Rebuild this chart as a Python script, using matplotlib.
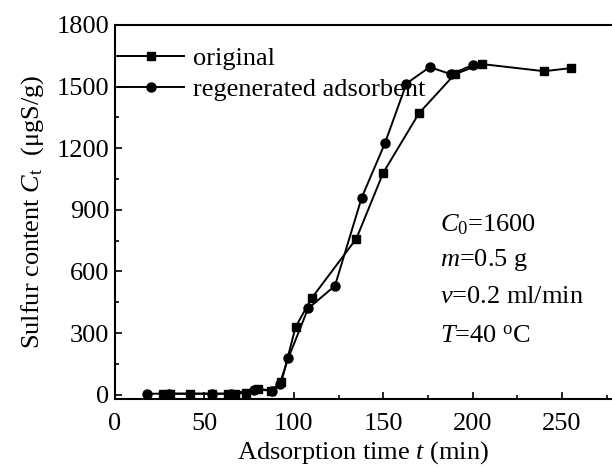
import matplotlib.pyplot as plt
from matplotlib.ticker import MultipleLocator

plt.rcParams['font.family'] = ['Liberation Serif', 'DejaVu Serif']
plt.rcParams['mathtext.fontset'] = 'custom'
plt.rcParams['mathtext.rm'] = 'Liberation Serif'
plt.rcParams['mathtext.it'] = 'Liberation Serif:italic'

# breakthrough curves: time (min) vs sulfur content (ugS/g)
orig_t = [27, 31, 42, 54, 63, 67, 73, 80, 87, 93, 101, 110, 135, 150, 170, 190, 205, 240, 255]
orig_c = [5, 5, 5, 5, 5, 5, 8, 30, 20, 60, 330, 470, 760, 1080, 1370, 1560, 1610, 1575, 1590]

regen_t = [18, 30, 54, 65, 78, 88, 92, 97, 108, 123, 138, 151, 163, 176, 188, 200]
regen_c = [5, 5, 5, 5, 25, 20, 50, 180, 420, 530, 960, 1225, 1515, 1595, 1560, 1605]

FS = 19

fig = plt.figure(figsize=(6.12, 4.67), dpi=100)
ax = fig.add_axes([0.188, 0.146, 0.812, 0.8005])

ax.plot(orig_t, orig_c, '-s', color='black', lw=1.4, ms=6, label='original')
ax.plot(regen_t, regen_c, '-o', color='black', lw=1.4, ms=6.5, label='regenerated adsorbent')

ax.set_xlim(0, 278)
ax.set_ylim(-20, 1800)
ax.xaxis.set_major_locator(MultipleLocator(50))
ax.xaxis.set_minor_locator(MultipleLocator(25))
ax.yaxis.set_major_locator(MultipleLocator(300))
ax.yaxis.set_minor_locator(MultipleLocator(150))
ax.tick_params(which='both', direction='in', labelsize=FS, width=1.2)
ax.tick_params(which='major', length=5)
ax.tick_params(which='minor', length=3)
ax.tick_params(axis='x', which='major', pad=10)
ax.tick_params(axis='y', which='major', pad=4)
ax.spines['right'].set_visible(False)
for s in ['left', 'bottom', 'top']:
    ax.spines[s].set_linewidth(1.5)

ax.set_xlabel('Adsorption time $t$ (min)', fontsize=FS, labelpad=3)
ax.set_ylabel('Sulfur content $C_{\\rm t}$  (\u03bcgS/g)', fontsize=FS, labelpad=8)

ax.legend(loc='upper left', bbox_to_anchor=(0, 0.95), frameon=False,
          fontsize=FS, handlelength=2.5, handletextpad=0.35,
          borderaxespad=0.0, labelspacing=0.3, borderpad=0.1)

conds = ['$C_0$=1600', '$m$=0.5 g', '$v$=0.2 ml/min', '$T$=40 $^{\\rm o}$C']
cond_y = [0.465, 0.372, 0.273, 0.166]
for s, y in zip(conds, cond_y):
    ax.text(0.654, y, s, transform=ax.transAxes, fontsize=FS,
            va='center', ha='left')

fig.savefig('out.png', dpi=100)
